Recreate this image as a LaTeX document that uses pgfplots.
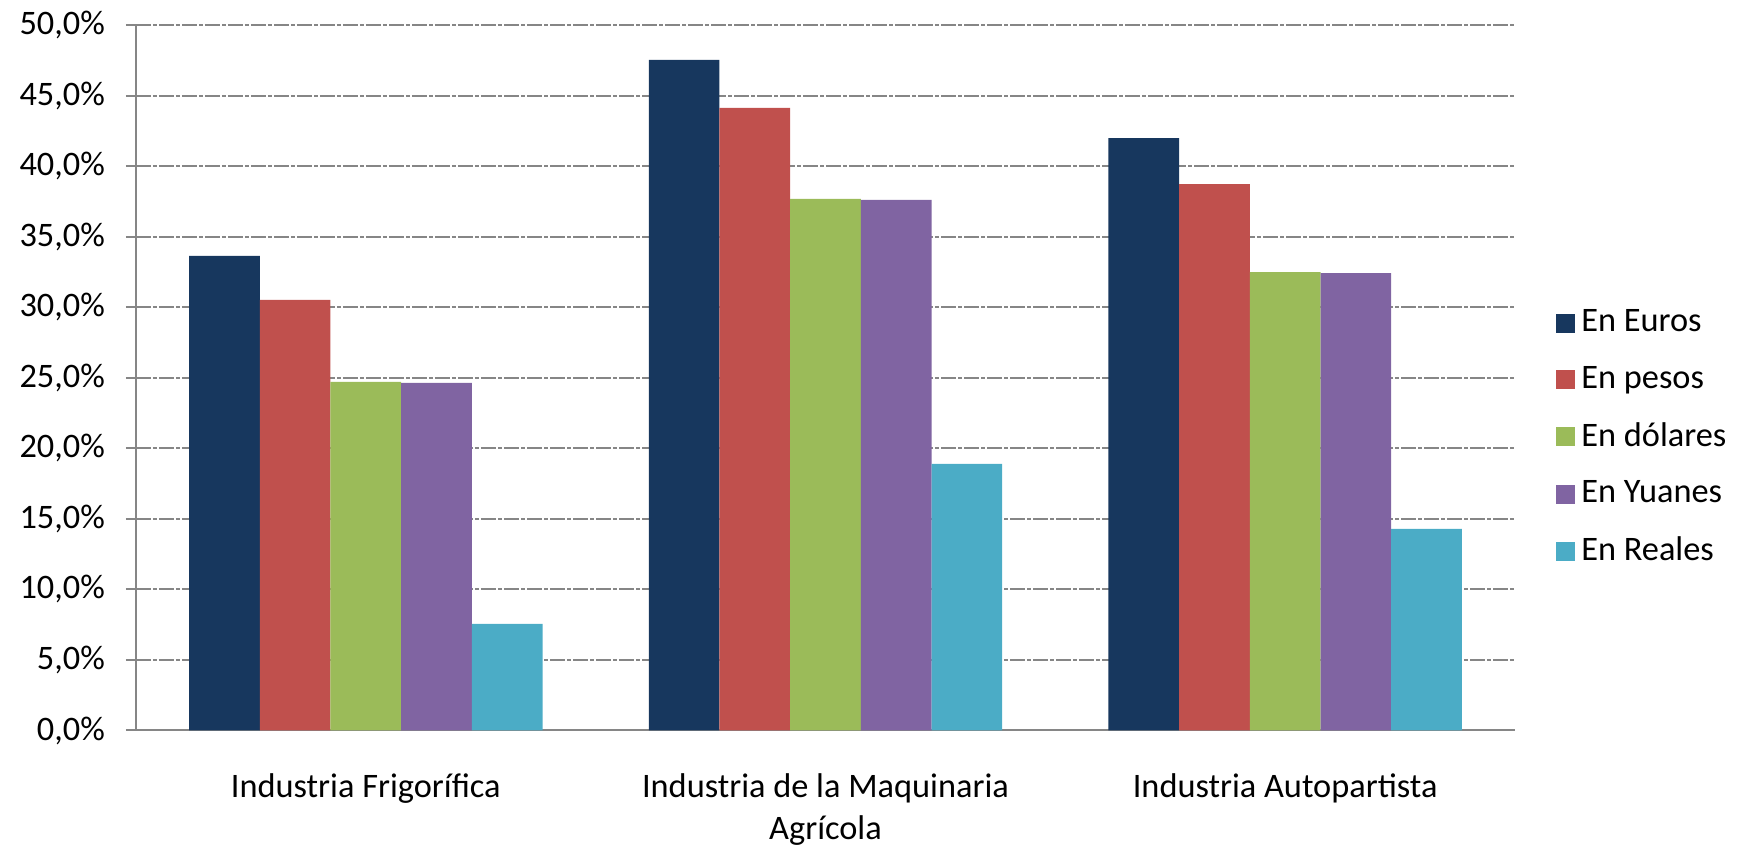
\documentclass[border=0pt]{standalone}
\usepackage{fontspec}
\setmainfont{Carlito}
\usepackage{pgfplots}
\pgfplotsset{compat=1.18}
\definecolor{cEur}{HTML}{17375E}
\definecolor{cPes}{HTML}{C0504D}
\definecolor{cDol}{HTML}{9BBB59}
\definecolor{cYua}{HTML}{8064A2}
\definecolor{cRea}{HTML}{4BACC6}
\definecolor{gridgray}{RGB}{134,134,134}
\newcommand{\ff}{\fontsize{10.3pt}{12.8pt}\selectfont}
\begin{document}
\begin{tikzpicture}
\begin{axis}[
  at={(0,0)}, anchor=south west,
  scale only axis,
  width=413.7pt, height=211.65pt,
  ybar=0pt, bar width=0.1538,
  xmin=-0.5, xmax=2.5,
  ymin=0, ymax=50,
  axis lines=left,
  axis line style={-, draw=gridgray, line width=0.6pt},
  xtick={0,1,2},
  xticklabels={Industria Frigorífica, {Industria de la Maquinaria\\Agrícola}, Industria Autopartista},
  xticklabel style={align=center, font=\ff, yshift=-6.3pt},
  x tick style={draw=none},
  extra x ticks={-0.5,0.5,1.5,2.5},
  extra x tick labels={},
  extra x tick style={grid=none, major tick length=3.4pt, tick style={draw=gridgray, line width=0.6pt}, tick align=outside},
  ytick={0,5,...,50},
  yticklabel={\pgfmathprintnumber[fixed,fixed zerofill,precision=1,use comma]{\tick}\%},
  /pgf/number format/assume math mode=true,
  yticklabel style={font=\ff, xshift=-2.8pt},
  y tick style={draw=gridgray, line width=0.6pt},
  tick align=outside,
  major tick length=3pt,
  ymajorgrids,
  major grid style={draw=gridgray, line width=0.6pt, dash pattern=on 4.5pt off 0.6pt on 1.2pt off 0.6pt},
  legend style={at={(1.029,0.415)}, anchor=west, draw=none, fill=none, font=\ff, inner sep=0pt, row sep=4.8pt, legend cell align=left},
  legend image code/.code={\fill[#1] (0pt,-2.85pt) rectangle (5.7pt,2.85pt);},
]
\addplot[fill=cEur, draw=none] coordinates {(0,33.63) (1,47.52) (2,41.99)};
\addplot[fill=cPes, draw=none] coordinates {(0,30.51) (1,44.12) (2,38.73)};
\addplot[fill=cDol, draw=none] coordinates {(0,24.70) (1,37.67) (2,32.49)};
\addplot[fill=cYua, draw=none] coordinates {(0,24.63) (1,37.60) (2,32.42)};
\addplot[fill=cRea, draw=none] coordinates {(0,7.55) (1,18.9) (2,14.28)};
\legend{En Euros, En pesos, En dólares, En Yuanes, En Reales}
\end{axis}
\pgfresetboundingbox
\path[use as bounding box] (-40.8pt,-34.35pt) rectangle (481.8pt,219.15pt);
\end{tikzpicture}
\end{document}
